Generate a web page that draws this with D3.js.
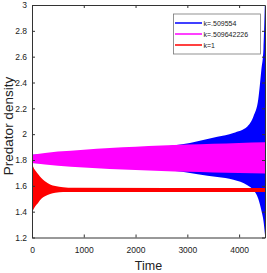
<!DOCTYPE html>
<html>
<head>
<script src="https://d3js.org/d3.v7.min.js"></script>
<style>
  body { margin: 0; background: #fff; }
  text { font-family: "Liberation Sans", Arial, sans-serif; fill: #222; }
</style>
</head>
<body>
<svg width="267" height="273"></svg>
<script>
// envelope of each oscillating series (time, upper, lower)
const blueT  = [0, 2900, 3200, 3580, 3890, 4160, 4280, 4370, 4430, 4470, 4500];
const blueHi = [1.84, 1.921, 1.945, 1.98, 2.01, 2.06, 2.14, 2.27, 2.5, 2.66, 3.05];
const blueLo = [1.777, 1.71, 1.69, 1.668, 1.648, 1.605, 1.565, 1.50, 1.41, 1.33, 1.22];

const magT  = [0, 500, 1000, 1500, 2000, 2500, 3000, 3500, 4000, 4500];
const magHi = [1.841, 1.865, 1.88, 1.893, 1.903, 1.913, 1.92, 1.926, 1.932, 1.937];
const magLo = [1.777, 1.755, 1.742, 1.73, 1.722, 1.715, 1.709, 1.704, 1.699, 1.695];

const redT  = [0, 25, 60, 120, 180, 250, 350, 450, 600, 800, 4500];
const redHi = [1.78, 1.745, 1.72, 1.69, 1.66, 1.635, 1.61, 1.598, 1.59, 1.585, 1.583];
const redLo = [1.39, 1.415, 1.44, 1.47, 1.50, 1.52, 1.537, 1.546, 1.552, 1.553, 1.553];

const legendNames = ["k=.509554", "k=.509642226", "k=1"];
const colors = ["#0000ff", "#ff00ff", "#ff0000"];
const xTicks = [0, 1000, 2000, 3000, 4000];
const yTicks = [1.2, 1.4, 1.6, 1.8, 2, 2.2, 2.4, 2.6, 2.8, 3];

const svg = d3.select("svg");
const mLeft = 32, mRight = 265, mTop = 5, mBottom = 237.5;

const x = d3.scaleLinear().domain([0, 4500]).range([mLeft, mRight]);
const y = d3.scaleLinear().domain([1.2, 3]).range([mBottom, mTop]);

svg.append("clipPath").attr("id", "clip")
    .append("rect").attr("x", mLeft).attr("y", mTop)
    .attr("width", mRight - mLeft).attr("height", mBottom - mTop);

const series = [
    {t: blueT, hi: blueHi, lo: blueLo},
    {t: magT, hi: magHi, lo: magLo},
    {t: redT, hi: redHi, lo: redLo}
];

const area = d3.area()
    .x(d => x(d[0]))
    .y0(d => y(d[2]))
    .y1(d => y(d[1]))
    .curve(d3.curveMonotoneX);

const g = svg.append("g").attr("clip-path", "url(#clip)");
series.forEach((s, i) => {
    const pts = s.t.map((t, j) => [t, s.hi[j], s.lo[j]]);
    g.append("path")
        .datum(pts)
        .attr("d", area)
        .attr("fill", colors[i]);
});

// axes, ticks inside, box all round
const axisColor = "#333";
svg.append("g").attr("transform", `translate(0,${mBottom})`)
    .call(d3.axisBottom(x).tickValues(xTicks).tickFormat(d3.format("d")).tickSizeInner(-3).tickSizeOuter(0).tickPadding(9))
    .call(a => a.selectAll("text").attr("font-size", 8.5));
svg.append("g").attr("transform", `translate(${mLeft},0)`)
    .call(d3.axisLeft(y).tickValues(yTicks).tickFormat(d3.format("~g")).tickSizeInner(-3).tickSizeOuter(0).tickPadding(5))
    .call(a => a.selectAll("text").attr("font-size", 8.5));
svg.append("g").attr("transform", `translate(0,${mTop})`)
    .call(d3.axisTop(x).tickValues(xTicks).tickSizeInner(-3).tickSizeOuter(0).tickFormat(""));
svg.append("g").attr("transform", `translate(${mRight},0)`)
    .call(d3.axisRight(y).tickValues(yTicks).tickSizeInner(-3).tickSizeOuter(0).tickFormat(""));
svg.selectAll(".domain, .tick line").attr("stroke", axisColor);

svg.append("text")
    .attr("x", (mLeft + mRight) / 2).attr("y", 270)
    .attr("text-anchor", "middle").attr("font-size", 12.5)
    .text("Time");
svg.append("text")
    .attr("transform", `translate(12.5,126) rotate(-90)`)
    .attr("text-anchor", "middle").attr("font-size", 13.5)
    .text("Predator density");

// legend
const lg = svg.append("g");
lg.append("rect")
    .attr("x", 173.5).attr("y", 14).attr("width", 87).attr("height", 40)
    .attr("fill", "#fff").attr("stroke", "#777").attr("stroke-width", 0.8);
legendNames.forEach((name, i) => {
    const ly = 23 + i * 11;
    lg.append("line")
        .attr("x1", 175).attr("x2", 202).attr("y1", ly).attr("y2", ly)
        .attr("stroke", colors[i]).attr("stroke-width", 1.5);
    lg.append("text")
        .attr("x", 203.5).attr("y", ly + 2.5)
        .attr("font-size", 7)
        .text(name);
});
</script>
</body>
</html>
